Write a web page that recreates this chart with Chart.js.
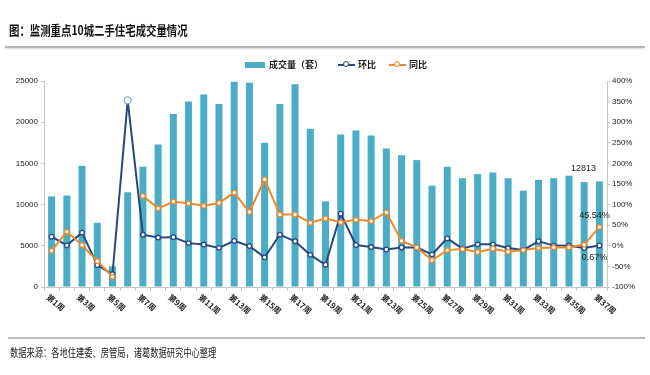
<!DOCTYPE html>
<html>
<head>
<meta charset="utf-8">
<script src="https://cdn.jsdelivr.net/npm/chart.js@4/dist/chart.umd.min.js"></script>
<style>
  html, body { margin:0; padding:0; background:#fff; }
  body { width:650px; height:375px; position:relative; overflow:hidden; font-family:"Noto Sans CJK SC","Liberation Sans",sans-serif; }
  #c { position:absolute; left:0; top:0; }
  .title { position:absolute; left:9px; top:20px; font-size:13px; font-weight:bold; color:#111; white-space:nowrap; transform:scaleX(0.8); transform-origin:left top; }
  .sep1 { position:absolute; left:5px; top:46px; width:640px; height:2px; background:#b5b5b5; box-shadow:0 1px 2px #ddd; }
  .sep2 { position:absolute; left:8px; top:337px; width:637px; height:2px; background:#bdbdbd; }
  .source { position:absolute; left:10px; top:344px; font-size:11px; color:#222; white-space:nowrap; transform:scaleX(0.75); transform-origin:left top; }
  .legend { position:absolute; left:245px; top:58px; font-size:9px; font-weight:bold; color:#222; white-space:nowrap; display:flex; align-items:center; }
  .lg { display:flex; align-items:center; }
  .box { width:20px; height:6px; background:#4BACC6; margin-right:4px; }
  .ln { position:relative; width:17px; height:2px; margin-right:3px; }
  .ln i { position:absolute; left:5px; top:-2.5px; width:4px; height:4px; border-radius:50%; background:#fff; border:1.2px solid; }
</style>
</head>
<body>
<canvas id="c" width="650" height="375"></canvas>
<div class="title">图：监测重点10城二手住宅成交量情况</div>
<div class="sep1"></div>
<div class="legend">
  <span class="lg"><span class="box"></span>成交量（套）</span>
  <span class="lg" style="margin-left:15px"><span class="ln" style="background:#27487F"><i style="border-color:#27487F"></i></span>环比</span>
  <span class="lg" style="margin-left:13px"><span class="ln" style="background:#EE8A2B"><i style="border-color:#EE8A2B"></i></span>同比</span>
</div>
<div class="sep2"></div>
<div class="source">数据来源：各地住建委、房管局，诸葛数据研究中心整理</div>
<script>
const weeks = ["第1周","第2周","第3周","第4周","第5周","第6周","第7周","第8周","第9周","第10周",
  "第11周","第12周","第13周","第14周","第15周","第16周","第17周","第18周","第19周","第20周",
  "第21周","第22周","第23周","第24周","第25周","第26周","第27周","第28周","第29周","第30周",
  "第31周","第32周","第33周","第34周","第35周","第36周","第37周"];
const volume = [11000,11100,14700,7800,2500,11500,14600,17300,21000,22500,
  23350,22200,24900,24800,17500,22200,24600,19200,10400,18500,
  19000,18400,16800,16000,15400,12300,14600,13200,13700,13900,
  13200,11700,13000,13200,13500,12730,12813];
const huanbi = [22,1,32,-47,-69,353,27,20,21,6.5,
  3,-5,12,-0.7,-28,27,11,-22,-46,78,
  2,-3,-9,-4,-4,-21,18,-7,3.5,3.5,
  -5.5,-10,11,0.5,0,-5.5,0.67];
const tongbi = [-12,34,1.7,-37,-75,null,121,91,107,103,
  97,104,129,82,161,76,76,56,66,57,
  63,60,81,12,-4,-35,-10.5,-8,-15,-7,
  -14.5,-10.4,-5.6,-4,-4,3,45.54];
const leftTicks = [0,5000,10000,15000,20000,25000];
const rightTicks = [-100,-50,0,50,100,150,200,250,300,350,400];

const BAR = '#4BACC6', NAVY = '#27487F', ORANGE = '#EE8A2B';
const tickFont = { family:'"Liberation Sans", Arial, sans-serif', size:8 };

const labelPlugin = {
  id:'labels',
  afterDraw(chart) {
    const ctx = chart.ctx;
    const xs = chart.scales.x;
    const area = chart.chartArea;
    ctx.save();
    ctx.font = 'bold 8px "Noto Sans CJK SC", sans-serif';
    ctx.fillStyle = '#222';
    ctx.textAlign = 'left';
    ctx.textBaseline = 'middle';
    weeks.forEach((w, i) => {
      if (i % 2 !== 0) return;
      const x = xs.getPixelForValue(i);
      ctx.save();
      ctx.translate(x - 4, area.bottom + 9);
      ctx.rotate(40 * Math.PI / 180);
      ctx.fillText(w, 0, 0);
      ctx.restore();
    });
    ctx.font = '9px "Liberation Sans", Arial, sans-serif';
    ctx.textAlign = 'center';
    const n = weeks.length - 1;
    const bar = chart.getDatasetMeta(0).data[n];
    ctx.fillText(String(volume[n]), bar.x - 16, bar.y - 13);
    const pt = chart.getDatasetMeta(2).data[n];
    ctx.fillText(tongbi[n] + '%', pt.x - 5, pt.y - 12);
    const ph = chart.getDatasetMeta(1).data[n];
    ctx.fillText(huanbi[n] + '%', ph.x - 5, ph.y + 12);
    ctx.restore();
  }
};

new Chart(document.getElementById('c'), {
  data: {
    labels: weeks,
    datasets: [
      { type:'bar', label:'成交量（套）', data:volume, backgroundColor:BAR, yAxisID:'y',
        order:3, barPercentage:0.46, categoryPercentage:1 },
      { type:'line', label:'环比', data:huanbi, yAxisID:'y1', order:1,
        borderColor:NAVY, borderWidth:2, tension:0,
        pointRadius: ctx => ctx.dataIndex === 5 ? 3.5 : 2.3,
        pointBorderColor: ctx => ctx.dataIndex === 5 ? '#8FA6CC' : NAVY,
        pointBackgroundColor:'#fff', pointBorderWidth:1.3 },
      { type:'line', label:'同比', data:tongbi, yAxisID:'y1', order:0,
        borderColor:ORANGE, borderWidth:2, tension:0, spanGaps:false,
        pointRadius:2.3, pointBorderColor:ORANGE, pointBackgroundColor:'#fff', pointBorderWidth:1.3 }
    ]
  },
  options: {
    responsive:false,
    animation:false,
    layout:{ padding:{ top:81, bottom:84, left:0, right:0 } },
    plugins:{ legend:{ display:false }, tooltip:{ enabled:false } },
    scales:{
      x:{
        offset:true,
        grid:{ offset:true, drawOnChartArea:false, tickLength:4, color:'#c8c8c8' },
        border:{ color:'#c8c8c8' },
        ticks:{ display:false },
        afterFit(s){ s.height = 4; }
      },
      y:{
        position:'left', min:0, max:25000,
        afterBuildTicks(s){ s.ticks = leftTicks.map(v => ({ value:v })); },
        ticks:{ font:tickFont, color:'#222', padding:3, callback:v => String(v) },
        grid:{ drawOnChartArea:false, tickLength:3, color:'#c8c8c8' },
        border:{ color:'#c8c8c8' },
        afterFit(s){ s.width = 44; }
      },
      y1:{
        position:'right', min:-100, max:400,
        afterBuildTicks(s){ s.ticks = rightTicks.map(v => ({ value:v })); },
        ticks:{ font:tickFont, color:'#222', padding:2, callback:v => v + '%' },
        grid:{ drawOnChartArea:false, tickLength:3, color:'#c8c8c8' },
        border:{ color:'#c8c8c8' },
        afterFit(s){ s.width = 43; }
      }
    }
  },
  plugins:[labelPlugin]
});
</script>
</body>
</html>
